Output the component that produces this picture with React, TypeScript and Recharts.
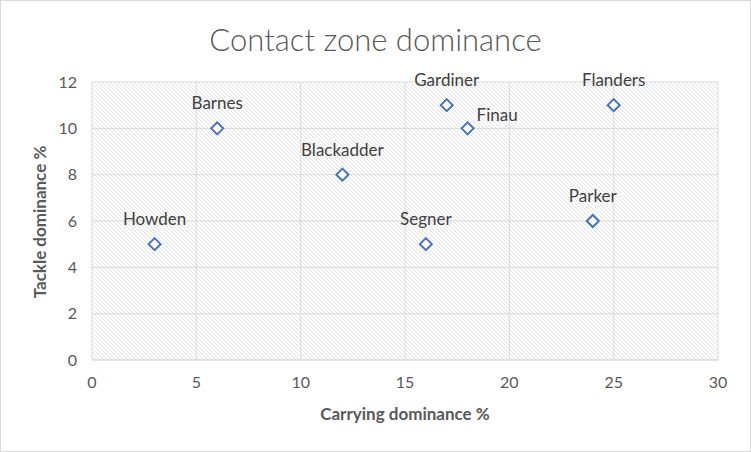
import { ScatterChart, Scatter, XAxis, YAxis, CartesianGrid, LabelList, Label } from "recharts"

const players = ["Howden", "Barnes", "Blackadder", "Segner", "Gardiner", "Finau", "Parker", "Flanders"]
const carrying = [3, 6, 12, 16, 17, 18, 24, 25]
const tackle = [5, 10, 8, 5, 11, 10, 6, 11]
const xTicks = [0, 5, 10, 15, 20, 25, 30]
const yTicks = [0, 2, 4, 6, 8, 10, 12]

const data = players.map((name, i) => ({ name, x: carrying[i], y: tackle[i] }))

const grey = "#595959"
const fontFamily = "Lato, 'Open Sans', sans-serif"

function Diamond(props: any) {
  const { cx, cy } = props
  const r = 6
  return (
    <path
      d={`M${cx},${cy - r} L${cx + r},${cy} L${cx},${cy + r} L${cx - r},${cy} Z`}
      fill="#ffffff"
      stroke="#4472C4"
      strokeWidth={2}
    />
  )
}

function PointLabel(props: any) {
  const { x, y, width, height, value } = props
  const cx = x + width / 2
  const cy = y + height / 2
  // Finau sits to the right of its marker, everything else above
  if (value === "Finau") {
    return (
      <text x={cx + 9} y={cy - 7} fill="#404040" fontSize={17} fontFamily={fontFamily} textAnchor="start">
        {value}
      </text>
    )
  }
  return (
    <text x={cx} y={cy - 19} fill="#404040" fontSize={17} fontFamily={fontFamily} textAnchor="middle">
      {value}
    </text>
  )
}

export default function App() {
  const tick = { fill: grey, fontSize: 16, fontFamily }
  return (
    <div style={{ position: "absolute", left: 0, top: 0, width: 751, height: 452, background: "#fff" }}>
      <svg width={0} height={0} style={{ position: "absolute" }}>
        <defs>
          <pattern id="hatch" patternUnits="userSpaceOnUse" width={4} height={4}>
            <path d="M-1,-1 L1,1 M0,0 L4,4 M3,3 L5,5" stroke="#e2e2e2" strokeWidth={1} />
          </pattern>
        </defs>
      </svg>
      <div
        style={{
          position: "absolute",
          left: 0,
          top: 21,
          width: 751,
          textAlign: "center",
          fontFamily,
          fontWeight: 300,
          fontSize: 31,
          color: grey,
          lineHeight: "36px",
        }}
      >
        Contact zone dominance
      </div>
      <ScatterChart width={751} height={452} margin={{ top: 82, right: 33, bottom: 0, left: 0 }}>
        <CartesianGrid stroke="#d9d9d9" fill="url(#hatch)" fillOpacity={1} />
        <XAxis
          type="number"
          dataKey="x"
          domain={[0, 30]}
          ticks={xTicks}
          tick={tick}
          tickLine={false}
          tickSize={0}
          tickMargin={17}
          axisLine={{ stroke: "#d9d9d9" }}
          height={92}
        >
          <Label
            content={() => (
              <text x={405} y={420} textAnchor="middle" fill={grey} fontSize={17} fontWeight="bold" fontFamily={fontFamily}>
                Carrying dominance %
              </text>
            )}
          />
        </XAxis>
        <YAxis
          type="number"
          dataKey="y"
          domain={[0, 12]}
          ticks={yTicks}
          tick={tick}
          tickLine={false}
          tickSize={0}
          tickMargin={15}
          axisLine={false}
          width={92}
        >
          <Label
            content={() => (
              <text
                x={46}
                y={222}
                textAnchor="middle"
                fill={grey}
                fontSize={17}
                fontWeight="bold"
                fontFamily={fontFamily}
                transform="rotate(-90 46 222)"
              >
                Tackle dominance %
              </text>
            )}
          />
        </YAxis>
        <Scatter data={data} shape={<Diamond />} isAnimationActive={false}>
          <LabelList dataKey="name" content={<PointLabel />} />
        </Scatter>
      </ScatterChart>
      <div
        style={{
          position: "absolute",
          inset: 0,
          border: "1px solid #d9d9d9",
          boxSizing: "border-box",
          pointerEvents: "none",
        }}
      />
    </div>
  )
}
